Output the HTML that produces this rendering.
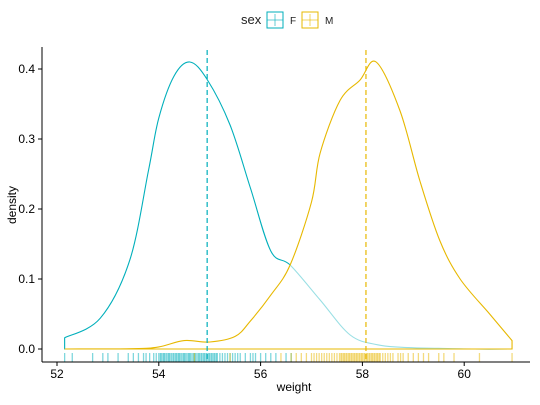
<!DOCTYPE html>
<html><head><meta charset="utf-8"><style>
body{margin:0;background:#fff}
svg{font-family:"Liberation Sans",Arial,sans-serif}
</style></head><body>
<svg id="chart" width="540" height="400">
<g>
<text x="241" y="24" font-size="13" fill="#222">sex</text>
<g>
<rect x="267" y="12" width="16" height="16" fill="#fff" stroke="#00AFBB" stroke-width="1"/>
<line x1="267" y1="20" x2="283" y2="20" stroke="#00AFBB" opacity="0.6"/>
<line x1="275" y1="14" x2="275" y2="26" stroke="#00AFBB" opacity="0.6"/>
<text x="290" y="24" font-size="10" fill="#222">F</text></g>
<g>
<rect x="302" y="12" width="16" height="16" fill="#fff" stroke="#E7B800" stroke-width="1"/>
<line x1="302" y1="20" x2="318" y2="20" stroke="#E7B800" opacity="0.6"/>
<line x1="310" y1="14" x2="310" y2="26" stroke="#E7B800" opacity="0.6"/>
<text x="325" y="24" font-size="10" fill="#222">M</text></g>
</g>
<g id="plot"></g>
<line x1="42" y1="47" x2="42" y2="362" stroke="#000"/>
<line x1="42" y1="362" x2="530" y2="362" stroke="#000"/>
<g id="axes"></g>
<text x="294" y="391" font-size="12" text-anchor="middle" fill="#000">weight</text>
<text transform="translate(16,205) rotate(-90)" font-size="12" text-anchor="middle" fill="#000">density</text>
</svg>
<script>
const fX=[52.15,52.85,53.43,53.8,54.0,54.3,54.61,54.95,55.4,55.8,56.2,56.58,57.17,57.76,58.3,58.9,59.5,60.2,60.94];
const fY=[0.016,0.044,0.127,0.256,0.33,0.39,0.41,0.385,0.32,0.23,0.14,0.12,0.07,0.02,0.006,0.002,0.001,0,0];
const mX=[52.15,53.5,54.0,54.5,55.0,55.5,55.8,56.2,56.58,57.0,57.17,57.56,57.95,58.27,58.74,59.13,59.52,59.92,60.5,60.94];
const mY=[0,0.0005,0.003,0.012,0.01,0.018,0.04,0.077,0.12,0.21,0.28,0.355,0.384,0.41,0.34,0.24,0.155,0.1,0.05,0.012];
const means=[54.95,58.07];
const rugF=[52.15,52.3,52.7,52.9,53.0,53.2,53.4,53.5,53.6,53.7,53.75,53.82,53.9,53.95,54.0,54.03,54.05,54.08,54.1,54.12,54.15,54.18,54.2,54.22,54.25,54.28,54.3,54.33,54.35,54.38,54.4,54.42,54.45,54.48,54.5,54.52,54.55,54.58,54.6,54.62,54.65,54.68,54.7,54.72,54.75,54.78,54.8,54.83,54.85,54.88,54.9,54.93,54.95,54.98,55.0,55.03,55.05,55.08,55.1,55.13,55.15,55.2,55.25,55.3,55.35,55.4,55.45,55.5,55.55,55.6,55.7,55.8,55.85,55.9,56.0,56.1,56.2,56.3,56.5,56.6];
const rugM=[54.7,55.4,56.4,56.6,56.7,56.8,56.9,57.0,57.05,57.1,57.15,57.2,57.25,57.3,57.35,57.4,57.45,57.5,57.55,57.58,57.6,57.63,57.65,57.68,57.7,57.73,57.75,57.78,57.8,57.83,57.85,57.88,57.9,57.93,57.95,57.98,58.0,58.03,58.05,58.08,58.1,58.13,58.15,58.18,58.2,58.23,58.25,58.28,58.3,58.33,58.35,58.4,58.45,58.5,58.55,58.6,58.7,58.75,58.8,58.9,59.0,59.1,59.2,59.3,59.5,59.6,59.8,60.3,60.94];
const xTicks=[52,54,56,58,60];
const yTicks=[0,0.1,0.2,0.3,0.4];
const sx=v=>57+(v-52)*50.9, sy=v=>349-v*700;
const NS="http://www.w3.org/2000/svg";
const plot=document.getElementById('plot'), axes=document.getElementById('axes');
function mk(tag,attrs,parent){const e=document.createElementNS(NS,tag);for(const k in attrs)e.setAttribute(k,attrs[k]);parent.appendChild(e);return e;}
function smooth(xs,ys){const p=xs.map((x,i)=>[sx(x),sy(ys[i])]);let d=`M${p[0][0]},${p[0][1]}`;
for(let i=0;i<p.length-1;i++){const p0=p[i-1]||p[i],p1=p[i],p2=p[i+1],p3=p[i+2]||p2;
d+=`C${p1[0]+(p2[0]-p0[0])/6},${p1[1]+(p2[1]-p0[1])/6} ${p2[0]-(p3[0]-p1[0])/6},${p2[1]-(p3[1]-p1[1])/6} ${p2[0]},${p2[1]}`;}return d;}
function area(xs,ys,col,name){const d=smooth(xs,ys);const x0=sx(xs[0]),x1=sx(xs[xs.length-1]),b=sy(0);
const el=mk('path',{d:`M${x0},${b}L${x0},${sy(ys[0])}`+d.replace(/^M[^C]*/,'')+`L${x1},${b}Z`,fill:'rgba(255,255,255,0.6)',stroke:col,'stroke-width':1.1},plot);

}
area(fX,fY,'#00AFBB','density-f');
area(mX,mY,'#E7B800','density-m');
means.forEach((m,i)=>{const l=mk('line',{x1:sx(m),x2:sx(m),y1:50,y2:362,stroke:i?'#E7B800':'#00AFBB','stroke-dasharray':'5,3','stroke-width':1.2},plot);

});
[[rugF,'#00AFBB'],[rugM,'#E7B800']].forEach(([r,c],j)=>r.forEach(v=>{const l=mk('line',{x1:sx(v),x2:sx(v),y1:353,y2:362,stroke:c,'stroke-opacity':0.5,'stroke-width':1.3},plot);

}));
xTicks.forEach(t=>{mk('line',{x1:sx(t),x2:sx(t),y1:362,y2:366,stroke:'#000'},axes);
const tx=mk('text',{x:sx(t),y:378,'font-size':12,'text-anchor':'middle',fill:'#000'},axes);tx.textContent=t;

});
yTicks.forEach(t=>{mk('line',{x1:38,x2:42,y1:sy(t),y2:sy(t),stroke:'#000'},axes);
const tx=mk('text',{x:35,y:sy(t)+4,'font-size':12,'text-anchor':'end',fill:'#000'},axes);tx.textContent=t.toFixed(1);

});
</script>
</body></html>
